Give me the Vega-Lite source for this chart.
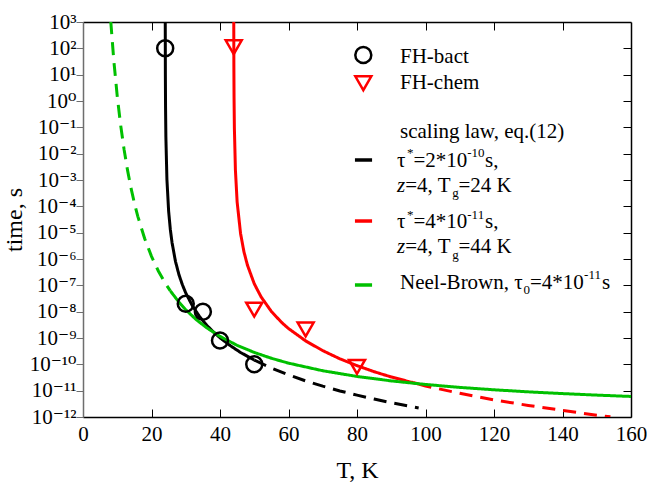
{
  "$schema": "https://vega.github.io/schema/vega-lite/v6.json",
  "width": 548,
  "height": 395,
  "autosize": {"type": "none"},
  "padding": {"left": 83, "top": 22, "right": 16, "bottom": 72},
  "config": {
    "view": {"stroke": null},
    "font": "'Liberation Serif', 'Times New Roman', 'DejaVu Serif', serif",
    "axis": {"grid": false, "labelFont": "'Liberation Serif', 'Times New Roman', 'DejaVu Serif', serif", "titleFont": "'Liberation Serif', 'Times New Roman', 'DejaVu Serif', serif", "labelColor": "black", "titleColor": "black", "titleFontWeight": "normal", "labelFlush": false, "labelOverlap": false, "labelBound": false}
  },
  "datasets": {
    "curves": [
      {"model": "bact", "seg": "fit", "T": 24.015, "t": 1310},
      {"model": "bact", "seg": "fit", "T": 24.05, "t": 10.7},
      {"model": "bact", "seg": "fit", "T": 24.1, "t": 0.66},
      {"model": "bact", "seg": "fit", "T": 24.2, "t": 0.0417},
      {"model": "bact", "seg": "fit", "T": 24.5, "t": 1.07e-3},
      {"model": "bact", "seg": "fit", "T": 25, "t": 6.61e-5},
      {"model": "bact", "seg": "fit", "T": 25.5, "t": 1.32e-5},
      {"model": "bact", "seg": "fit", "T": 26, "t": 4.17e-6},
      {"model": "bact", "seg": "fit", "T": 27, "t": 8.13e-7},
      {"model": "bact", "seg": "fit", "T": 28, "t": 2.57e-7},
      {"model": "bact", "seg": "fit", "T": 29, "t": 1.07e-7},
      {"model": "bact", "seg": "fit", "T": 30, "t": 5.13e-8},
      {"model": "bact", "seg": "fit", "T": 32, "t": 1.62e-8},
      {"model": "bact", "seg": "fit", "T": 34, "t": 6.61e-9},
      {"model": "bact", "seg": "fit", "T": 36, "t": 3.16e-9},
      {"model": "bact", "seg": "fit", "T": 38, "t": 1.74e-9},
      {"model": "bact", "seg": "fit", "T": 40, "t": 1.02e-9},
      {"model": "bact", "seg": "fit", "T": 43, "t": 5.13e-10},
      {"model": "bact", "seg": "fit", "T": 46, "t": 2.82e-10},
      {"model": "bact", "seg": "fit", "T": 50, "t": 1.45e-10},
      {"model": "bact", "seg": "extrap", "T": 50, "t": 1.45e-10},
      {"model": "bact", "seg": "extrap", "T": 55, "t": 7.24e-11},
      {"model": "bact", "seg": "extrap", "T": 60, "t": 3.98e-11},
      {"model": "bact", "seg": "extrap", "T": 65, "t": 2.34e-11},
      {"model": "bact", "seg": "extrap", "T": 70, "t": 1.48e-11},
      {"model": "bact", "seg": "extrap", "T": 75, "t": 9.77e-12},
      {"model": "bact", "seg": "extrap", "T": 80, "t": 6.76e-12},
      {"model": "bact", "seg": "extrap", "T": 85, "t": 4.79e-12},
      {"model": "bact", "seg": "extrap", "T": 90, "t": 3.47e-12},
      {"model": "bact", "seg": "extrap", "T": 95, "t": 2.63e-12},
      {"model": "bact", "seg": "extrap", "T": 98, "t": 2.21e-12},
      {"model": "chem", "seg": "fit", "T": 44.019, "t": 1150},
      {"model": "chem", "seg": "fit", "T": 44.05, "t": 24},
      {"model": "chem", "seg": "fit", "T": 44.1, "t": 1.48},
      {"model": "chem", "seg": "fit", "T": 44.2, "t": 0.0933},
      {"model": "chem", "seg": "fit", "T": 44.5, "t": 2.4e-3},
      {"model": "chem", "seg": "fit", "T": 45, "t": 1.48e-4},
      {"model": "chem", "seg": "fit", "T": 46, "t": 9.33e-6},
      {"model": "chem", "seg": "fit", "T": 47, "t": 1.86e-6},
      {"model": "chem", "seg": "fit", "T": 48, "t": 5.89e-7},
      {"model": "chem", "seg": "fit", "T": 50, "t": 1.15e-7},
      {"model": "chem", "seg": "fit", "T": 52, "t": 3.63e-8},
      {"model": "chem", "seg": "fit", "T": 55, "t": 1.02e-8},
      {"model": "chem", "seg": "fit", "T": 58, "t": 3.89e-9},
      {"model": "chem", "seg": "fit", "T": 60, "t": 2.29e-9},
      {"model": "chem", "seg": "fit", "T": 65, "t": 7.76e-10},
      {"model": "chem", "seg": "fit", "T": 70, "t": 3.31e-10},
      {"model": "chem", "seg": "fit", "T": 75, "t": 1.62e-10},
      {"model": "chem", "seg": "fit", "T": 80, "t": 8.91e-11},
      {"model": "chem", "seg": "fit", "T": 85, "t": 5.25e-11},
      {"model": "chem", "seg": "fit", "T": 90, "t": 3.31e-11},
      {"model": "chem", "seg": "fit", "T": 95, "t": 2.24e-11},
      {"model": "chem", "seg": "fit", "T": 98, "t": 1.78e-11},
      {"model": "chem", "seg": "extrap", "T": 98, "t": 1.78e-11},
      {"model": "chem", "seg": "extrap", "T": 100, "t": 1.51e-11},
      {"model": "chem", "seg": "extrap", "T": 110, "t": 7.94e-12},
      {"model": "chem", "seg": "extrap", "T": 120, "t": 4.47e-12},
      {"model": "chem", "seg": "extrap", "T": 130, "t": 2.75e-12},
      {"model": "chem", "seg": "extrap", "T": 140, "t": 1.78e-12},
      {"model": "chem", "seg": "extrap", "T": 150, "t": 1.17e-12},
      {"model": "chem", "seg": "extrap", "T": 154, "t": 1.02e-12},
      {"model": "neel", "seg": "extrap", "T": 8.1, "t": 1077},
      {"model": "neel", "seg": "extrap", "T": 9, "t": 34},
      {"model": "neel", "seg": "extrap", "T": 10, "t": 1.51},
      {"model": "neel", "seg": "extrap", "T": 11, "t": 0.119},
      {"model": "neel", "seg": "extrap", "T": 12, "t": 0.01422},
      {"model": "neel", "seg": "extrap", "T": 13, "t": 2.37e-3},
      {"model": "neel", "seg": "extrap", "T": 14, "t": 5.08e-4},
      {"model": "neel", "seg": "extrap", "T": 15, "t": 1.34e-4},
      {"model": "neel", "seg": "extrap", "T": 16, "t": 4.17e-5},
      {"model": "neel", "seg": "extrap", "T": 18, "t": 5.97e-6},
      {"model": "neel", "seg": "extrap", "T": 20, "t": 1.26e-6},
      {"model": "neel", "seg": "extrap", "T": 22, "t": 3.52e-7},
      {"model": "neel", "seg": "extrap", "T": 24, "t": 1.22e-7},
      {"model": "neel", "seg": "extrap", "T": 25.5, "t": 6.15e-8},
      {"model": "neel", "seg": "fit", "T": 25.5, "t": 6.15e-8},
      {"model": "neel", "seg": "fit", "T": 28, "t": 2.31e-8},
      {"model": "neel", "seg": "fit", "T": 30, "t": 1.18e-8},
      {"model": "neel", "seg": "fit", "T": 33, "t": 5.07e-9},
      {"model": "neel", "seg": "fit", "T": 36, "t": 2.5e-9},
      {"model": "neel", "seg": "fit", "T": 40, "t": 1.15e-9},
      {"model": "neel", "seg": "fit", "T": 45, "t": 5.27e-10},
      {"model": "neel", "seg": "fit", "T": 50, "t": 2.83e-10},
      {"model": "neel", "seg": "fit", "T": 55, "t": 1.7e-10},
      {"model": "neel", "seg": "fit", "T": 60, "t": 1.11e-10},
      {"model": "neel", "seg": "fit", "T": 70, "t": 5.71e-11},
      {"model": "neel", "seg": "fit", "T": 80, "t": 3.47e-11},
      {"model": "neel", "seg": "fit", "T": 90, "t": 2.35e-11},
      {"model": "neel", "seg": "fit", "T": 100, "t": 1.72e-11},
      {"model": "neel", "seg": "fit", "T": 110, "t": 1.33e-11},
      {"model": "neel", "seg": "fit", "T": 120, "t": 1.08e-11},
      {"model": "neel", "seg": "fit", "T": 130, "t": 9.02e-12},
      {"model": "neel", "seg": "fit", "T": 140, "t": 7.74e-12},
      {"model": "neel", "seg": "fit", "T": 150, "t": 6.78e-12},
      {"model": "neel", "seg": "fit", "T": 160, "t": 6.03e-12}
    ],
    "measured": [
      {"model": "bact", "T": 24, "t": 100},
      {"model": "bact", "T": 30, "t": 2e-8},
      {"model": "bact", "T": 35, "t": 1e-8},
      {"model": "bact", "T": 40, "t": 8e-10},
      {"model": "bact", "T": 50, "t": 1e-10},
      {"model": "chem", "T": 44, "t": 110},
      {"model": "chem", "T": 50, "t": 1.2e-8},
      {"model": "chem", "T": 65, "t": 2.1e-9},
      {"model": "chem", "T": 80, "t": 8e-11}
    ],
    "legendSymbols": [
      {"model": "bact", "T": 81.84, "t": 56},
      {"model": "chem", "T": 81.84, "t": 4.71}
    ],
    "legendLines": [
      {"model": "bact", "T1": 79.4, "T2": 84.4, "t": 5.75e-3},
      {"model": "chem", "T1": 79.4, "T2": 84.4, "t": 2.77e-5},
      {"model": "neel", "T1": 79.4, "T2": 84.4, "t": 1.03e-7}
    ],
    "legendText": [
      {"text": "FH-bact", "T": 92.55, "t": 28.5},
      {"text": "FH-chem", "T": 92.55, "t": 2.79},
      {"text": "scaling law, eq.(12)", "T": 92.55, "t": 0.03836},
      {"text": "τ", "T": 91.68, "t": 3.2e-3},
      {"text": "=2*10", "T": 96.5, "t": 3.2e-3},
      {"text": "s,", "T": 117.4, "t": 3.2e-3},
      {"text": "=4, T", "T": 94.07, "t": 3.6e-4},
      {"text": "=24 K", "T": 109.6, "t": 3.6e-4},
      {"text": "τ", "T": 91.68, "t": 1.47e-5},
      {"text": "=4*10", "T": 96.5, "t": 1.47e-5},
      {"text": "s,", "T": 117.4, "t": 1.47e-5},
      {"text": "=4, T", "T": 94.07, "t": 1.65e-6},
      {"text": "=44 K", "T": 109.6, "t": 1.65e-6},
      {"text": "Neel-Brown, τ", "T": 92.55, "t": 7.26e-8},
      {"text": "=4*10", "T": 130.5, "t": 7.26e-8},
      {"text": "s", "T": 151.5, "t": 7.26e-8}
    ],
    "legendItalic": [
      {"text": "z", "T": 91.68, "t": 3.6e-4},
      {"text": "z", "T": 91.68, "t": 1.65e-6}
    ],
    "legendSmall": [
      {"text": "*", "T": 94.6, "t": 7.47e-3},
      {"text": "-10", "T": 112.2, "t": 7.47e-3},
      {"text": "g", "T": 107.8, "t": 2.26e-4},
      {"text": "*", "T": 94.6, "t": 3.42e-5},
      {"text": "-11", "T": 112.2, "t": 3.42e-5},
      {"text": "g", "T": 107.8, "t": 1.04e-6},
      {"text": "0", "T": 128.6, "t": 4.57e-8},
      {"text": "-11", "T": 146.3, "t": 1.69e-7}
    ]
  },
  "resolve": {"axis": {"x": "independent", "y": "independent"}},
  "layer": [
    {
      "data": {"name": "curves"},
      "mark": {"type": "line", "strokeWidth": 3, "clip": true},
      "encoding": {
        "x": {"field": "T", "type": "quantitative", "scale": {"domain": [0, 160], "nice": false, "zero": false},
          "axis": {"orient": "bottom", "values": [0, 20, 40, 60, 80, 100, 120, 140, 160], "tickSize": -8, "tickColor": "black", "tickWidth": 1, "domainColor": "black", "domainWidth": 1.5, "labelFontSize": 21, "labelPadding": 14, "title": "T, K", "titleFontSize": 24, "titlePadding": 14}},
        "y": {"field": "t", "type": "quantitative", "scale": {"type": "log", "domain": [1e-12, 1000], "nice": false},
          "axis": {"orient": "left", "values": [1e-12, 1e-11, 1e-10, 1e-9, 1e-8, 1e-7, 1e-6, 1e-5, 1e-4, 1e-3, 1e-2, 1e-1, 1, 10, 100, 1000], "tickSize": 7, "tickColor": "#6e6e6e", "tickWidth": 1, "domainColor": "#6e6e6e", "domainWidth": 1.5, "labelFontSize": 21, "labelPadding": 0,
            "labelExpr": "'10' + ['⁻¹²','⁻¹¹','⁻¹⁰','⁻⁹','⁻⁸','⁻⁷','⁻⁶','⁻⁵','⁻⁴','⁻³','⁻²','⁻¹','⁰','¹','²','³'][round(log(datum.value)/LN10) + 12]",
            "title": "time, s", "titleFontSize": 24, "titlePadding": 3}},
        "color": {"field": "model", "type": "nominal", "scale": {"domain": ["bact", "chem", "neel"], "range": ["#000000", "#ff0000", "#00c000"]}, "legend": null},
        "strokeDash": {"field": "seg", "type": "nominal", "scale": {"domain": ["fit", "extrap"], "range": [[1, 0], [13, 8]]}, "legend": null}
      }
    },
    {
      "data": {"name": "measured"},
      "mark": {"type": "point", "filled": false, "strokeWidth": 2.5, "size": 256, "opacity": 1},
      "encoding": {
        "x": {"field": "T", "type": "quantitative",
          "axis": {"orient": "top", "values": [20, 40, 60, 80, 100, 120, 140], "tickSize": -8, "tickColor": "black", "tickWidth": 1, "domainColor": "black", "domainWidth": 1.5, "labels": false, "title": null}},
        "y": {"field": "t", "type": "quantitative",
          "axis": {"orient": "right", "values": [1e-11, 1e-10, 1e-9, 1e-8, 1e-7, 1e-6, 1e-5, 1e-4, 1e-3, 1e-2, 1e-1, 1, 10, 100], "tickSize": -8, "tickColor": "black", "tickWidth": 1, "domainColor": "black", "domainWidth": 1.5, "labels": false, "title": null}},
        "color": {"field": "model", "type": "nominal", "legend": null},
        "shape": {"field": "model", "type": "nominal", "scale": {"domain": ["bact", "chem"], "range": ["circle", "triangle-down"]}, "legend": null}
      }
    },
    {
      "data": {"name": "legendSymbols"},
      "mark": {"type": "point", "filled": false, "strokeWidth": 2.5, "size": 256, "opacity": 1},
      "encoding": {
        "x": {"field": "T", "type": "quantitative", "axis": null},
        "y": {"field": "t", "type": "quantitative", "axis": null},
        "color": {"field": "model", "type": "nominal", "legend": null},
        "shape": {"field": "model", "type": "nominal", "legend": null}
      }
    },
    {
      "data": {"name": "legendLines"},
      "mark": {"type": "rule", "strokeWidth": 3.5},
      "encoding": {
        "x": {"field": "T1", "type": "quantitative", "axis": null},
        "x2": {"field": "T2"},
        "y": {"field": "t", "type": "quantitative", "axis": null},
        "color": {"field": "model", "type": "nominal", "legend": null}
      }
    },
    {
      "data": {"name": "legendText"},
      "mark": {"type": "text", "align": "left", "baseline": "alphabetic", "font": "'Liberation Serif', 'Times New Roman', 'DejaVu Serif', serif", "fontSize": 21, "color": "black"},
      "encoding": {
        "x": {"field": "T", "type": "quantitative", "axis": null},
        "y": {"field": "t", "type": "quantitative", "axis": null},
        "text": {"field": "text"}
      }
    },
    {
      "data": {"name": "legendItalic"},
      "mark": {"type": "text", "align": "left", "baseline": "alphabetic", "font": "'Liberation Serif', 'Times New Roman', 'DejaVu Serif', serif", "fontSize": 21, "fontStyle": "italic", "color": "black"},
      "encoding": {
        "x": {"field": "T", "type": "quantitative", "axis": null},
        "y": {"field": "t", "type": "quantitative", "axis": null},
        "text": {"field": "text"}
      }
    },
    {
      "data": {"name": "legendSmall"},
      "mark": {"type": "text", "align": "left", "baseline": "alphabetic", "font": "'Liberation Serif', 'Times New Roman', 'DejaVu Serif', serif", "fontSize": 13, "color": "black"},
      "encoding": {
        "x": {"field": "T", "type": "quantitative", "axis": null},
        "y": {"field": "t", "type": "quantitative", "axis": null},
        "text": {"field": "text"}
      }
    }
  ]
}
